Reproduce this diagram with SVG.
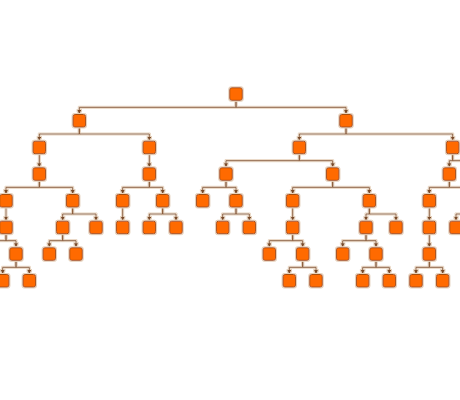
<svg xmlns="http://www.w3.org/2000/svg" width="460" height="400" viewBox="0 0 460 400">
<style>
.e{fill:none;stroke:#8a5a36;stroke-width:1}
.a{marker-end:url(#arr)}
.n{fill:#ff6a00;stroke:#a8500f;stroke-width:1}
</style>
<defs>
<marker id="arr" markerUnits="userSpaceOnUse" markerWidth="5" markerHeight="5" refX="4" refY="2" orient="auto"><path d="M0,0L4,2L0,4z" fill="#7a4a28" stroke="none"/></marker>
<filter id="halo" x="-10%" y="-10%" width="120%" height="120%">
<feMorphology in="SourceAlpha" operator="dilate" radius="1" result="d"/>
<feFlood flood-color="#e6d2bd"/>
<feComposite in2="d" operator="in" result="h"/>
<feMerge><feMergeNode in="h"/><feMergeNode in="SourceGraphic"/></feMerge>
</filter>
<rect id="box" x="-6.25" y="0.5" width="12.5" height="12.5" rx="2"/>
</defs>
<rect width="460" height="400" fill="#fff"/>
<g id="connectors" filter="url(#halo)">
<path class="e a" d="M236 100.3V107.3H79.3V114"/>
<path class="e a" d="M236 100.3V107.3H346V114"/>
<path class="e a" d="M79.3 127V134H39.3V140.7"/>
<path class="e a" d="M79.3 127V134H149.3V140.7"/>
<path class="e a" d="M346 127V134H299.3V140.7"/>
<path class="e a" d="M346 127V134H452.7V140.7"/>
<path class="e a" d="M39.3 153.7V167.3"/>
<path class="e a" d="M149.3 153.7V167.3"/>
<path class="e a" d="M299.3 153.7V160.7H226V167.3"/>
<path class="e a" d="M299.3 153.7V160.7H332.7V167.3"/>
<path class="e a" d="M452.7 153.7V160.7H449.3V167.3"/>
<path class="e" d="M452.7 153.7V160.7H464"/>
<path class="e a" d="M39.3 180.3V187.3H6V194"/>
<path class="e a" d="M39.3 180.3V187.3H72.7V194"/>
<path class="e a" d="M149.3 180.3V187.3H122.7V194"/>
<path class="e a" d="M149.3 180.3V187.3H162.7V194"/>
<path class="e a" d="M226 180.3V187.3H202.7V194"/>
<path class="e a" d="M226 180.3V187.3H236V194"/>
<path class="e a" d="M332.7 180.3V187.3H292.7V194"/>
<path class="e a" d="M332.7 180.3V187.3H369.3V194"/>
<path class="e a" d="M449.3 180.3V187.3H429.3V194"/>
<path class="e" d="M449.3 180.3V187.3H464"/>
<path class="e a" d="M6 207V220.7"/>
<path class="e a" d="M72.7 207V214H62.7V220.7"/>
<path class="e a" d="M72.7 207V214H96V220.7"/>
<path class="e a" d="M122.7 207V220.7"/>
<path class="e a" d="M162.7 207V214H149.3V220.7"/>
<path class="e a" d="M162.7 207V214H176V220.7"/>
<path class="e a" d="M236 207V214H222.7V220.7"/>
<path class="e a" d="M236 207V214H249.3V220.7"/>
<path class="e a" d="M292.7 207V220.7"/>
<path class="e a" d="M369.3 207V214H366V220.7"/>
<path class="e a" d="M369.3 207V214H396V220.7"/>
<path class="e a" d="M429.3 207V220.7"/>
<path class="e a" d="M464 214H456V220.7"/>
<path class="e" d="M6 233.7V240.7H-4"/>
<path class="e a" d="M6 233.7V240.7H16V247.3"/>
<path class="e a" d="M62.7 233.7V240.7H49.3V247.3"/>
<path class="e a" d="M62.7 233.7V240.7H76V247.3"/>
<path class="e a" d="M292.7 233.7V240.7H269.3V247.3"/>
<path class="e a" d="M292.7 233.7V240.7H302.7V247.3"/>
<path class="e a" d="M366 233.7V240.7H342.7V247.3"/>
<path class="e a" d="M366 233.7V240.7H376V247.3"/>
<path class="e a" d="M429.3 233.7V247.3"/>
<path class="e a" d="M16 260.3V267.3H2.7V274"/>
<path class="e a" d="M16 260.3V267.3H29.3V274"/>
<path class="e a" d="M302.7 260.3V267.3H289.3V274"/>
<path class="e a" d="M302.7 260.3V267.3H316V274"/>
<path class="e a" d="M376 260.3V267.3H362.7V274"/>
<path class="e a" d="M376 260.3V267.3H389.3V274"/>
<path class="e a" d="M429.3 260.3V267.3H416V274"/>
<path class="e a" d="M429.3 260.3V267.3H442.7V274"/>
</g>
<g id="nodes" filter="url(#halo)">
<g id="n0" class="n" transform="translate(236,87.3)"><use href="#box"/></g>
<g id="n1a" class="n" transform="translate(79.3,114)"><use href="#box"/></g>
<g id="n1b" class="n" transform="translate(346,114)"><use href="#box"/></g>
<g id="n2a" class="n" transform="translate(39.3,140.7)"><use href="#box"/></g>
<g id="n2b" class="n" transform="translate(149.3,140.7)"><use href="#box"/></g>
<g id="n2c" class="n" transform="translate(299.3,140.7)"><use href="#box"/></g>
<g id="n2d" class="n" transform="translate(452.7,140.7)"><use href="#box"/></g>
<g id="n3a" class="n" transform="translate(39.3,167.3)"><use href="#box"/></g>
<g id="n3b" class="n" transform="translate(149.3,167.3)"><use href="#box"/></g>
<g id="n3c" class="n" transform="translate(226,167.3)"><use href="#box"/></g>
<g id="n3d" class="n" transform="translate(332.7,167.3)"><use href="#box"/></g>
<g id="n3e" class="n" transform="translate(449.3,167.3)"><use href="#box"/></g>
<g id="n4a" class="n" transform="translate(6,194)"><use href="#box"/></g>
<g id="n4b" class="n" transform="translate(72.7,194)"><use href="#box"/></g>
<g id="n4c" class="n" transform="translate(122.7,194)"><use href="#box"/></g>
<g id="n4d" class="n" transform="translate(162.7,194)"><use href="#box"/></g>
<g id="n4e" class="n" transform="translate(202.7,194)"><use href="#box"/></g>
<g id="n4f" class="n" transform="translate(236,194)"><use href="#box"/></g>
<g id="n4g" class="n" transform="translate(292.7,194)"><use href="#box"/></g>
<g id="n4h" class="n" transform="translate(369.3,194)"><use href="#box"/></g>
<g id="n4i" class="n" transform="translate(429.3,194)"><use href="#box"/></g>
<g id="n5a" class="n" transform="translate(6,220.7)"><use href="#box"/></g>
<g id="n5b" class="n" transform="translate(62.7,220.7)"><use href="#box"/></g>
<g id="n5c" class="n" transform="translate(96,220.7)"><use href="#box"/></g>
<g id="n5d" class="n" transform="translate(122.7,220.7)"><use href="#box"/></g>
<g id="n5e" class="n" transform="translate(149.3,220.7)"><use href="#box"/></g>
<g id="n5f" class="n" transform="translate(176,220.7)"><use href="#box"/></g>
<g id="n5g" class="n" transform="translate(222.7,220.7)"><use href="#box"/></g>
<g id="n5h" class="n" transform="translate(249.3,220.7)"><use href="#box"/></g>
<g id="n5i" class="n" transform="translate(292.7,220.7)"><use href="#box"/></g>
<g id="n5j" class="n" transform="translate(366,220.7)"><use href="#box"/></g>
<g id="n5k" class="n" transform="translate(396,220.7)"><use href="#box"/></g>
<g id="n5l" class="n" transform="translate(429.3,220.7)"><use href="#box"/></g>
<g id="n5m" class="n" transform="translate(456,220.7)"><use href="#box"/></g>
<g id="n6a" class="n" transform="translate(16,247.3)"><use href="#box"/></g>
<g id="n6b" class="n" transform="translate(49.3,247.3)"><use href="#box"/></g>
<g id="n6c" class="n" transform="translate(76,247.3)"><use href="#box"/></g>
<g id="n6d" class="n" transform="translate(269.3,247.3)"><use href="#box"/></g>
<g id="n6e" class="n" transform="translate(302.7,247.3)"><use href="#box"/></g>
<g id="n6f" class="n" transform="translate(342.7,247.3)"><use href="#box"/></g>
<g id="n6g" class="n" transform="translate(376,247.3)"><use href="#box"/></g>
<g id="n6h" class="n" transform="translate(429.3,247.3)"><use href="#box"/></g>
<g id="n7a" class="n" transform="translate(2.7,274)"><use href="#box"/></g>
<g id="n7b" class="n" transform="translate(29.3,274)"><use href="#box"/></g>
<g id="n7c" class="n" transform="translate(289.3,274)"><use href="#box"/></g>
<g id="n7d" class="n" transform="translate(316,274)"><use href="#box"/></g>
<g id="n7e" class="n" transform="translate(362.7,274)"><use href="#box"/></g>
<g id="n7f" class="n" transform="translate(389.3,274)"><use href="#box"/></g>
<g id="n7g" class="n" transform="translate(416,274)"><use href="#box"/></g>
<g id="n7h" class="n" transform="translate(442.7,274)"><use href="#box"/></g>
</g>
</svg>
